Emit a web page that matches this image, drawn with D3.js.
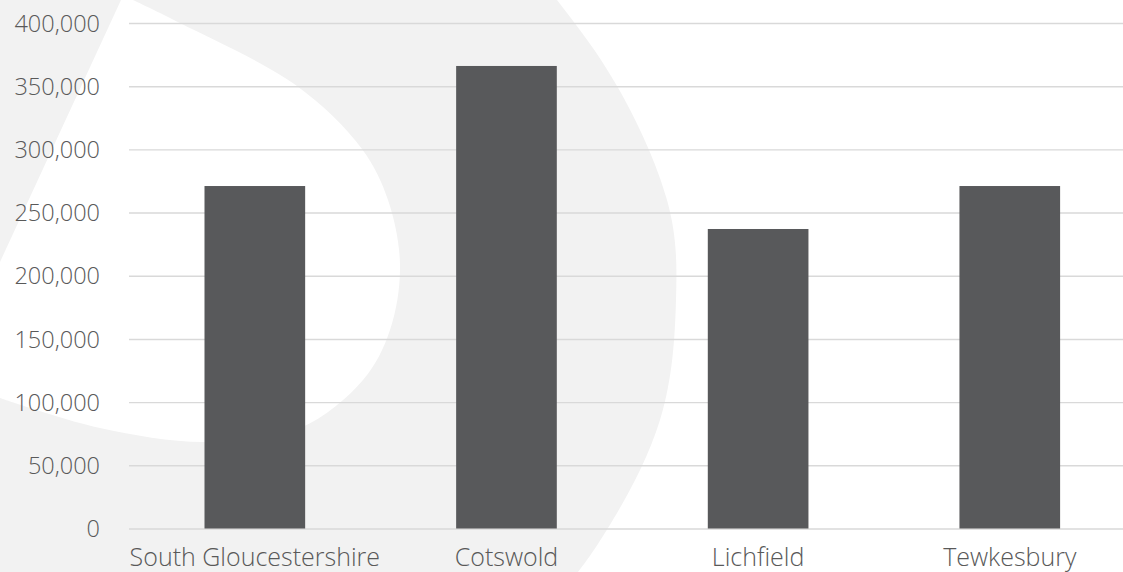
<!DOCTYPE html>
<html>
<head>
<meta charset="utf-8">
<script src="https://cdn.jsdelivr.net/npm/d3@7"></script>
<style>
  html, body { margin: 0; padding: 0; background: #ffffff; }
  svg { display: block; }
  .tick text { font-family: "Century Gothic", "Open Sans", sans-serif; font-weight: 300; fill: #595959; }
</style>
</head>
<body>
<svg id="chart" width="1123" height="572"></svg>
<script>
// Local authority values
const categories = ["South Gloucestershire", "Cotswold", "Lichfield", "Tewkesbury"];
const values = [271000, 366000, 237000, 271000];
const tickValues = [0, 50000, 100000, 150000, 200000, 250000, 300000, 350000, 400000];

const W = 1123, H = 572;
const svg = d3.select("#chart");

// Decorative background swoosh
const bg = svg.append("g");
const arcPts = [[557, 0], [617, 86], [667, 200], [676, 300], [660, 420], [608, 528], [578, 572]];
const line = d3.line().curve(d3.curveNatural);
bg.append("path")
  .attr("d", "M0,0 " + line(arcPts).replace(/^M/, "L") + " L0,572 Z")
  .attr("fill", "#f2f2f2");

const dropPts = [[133, 0], [180, 23], [297, 86], [362, 149], [388, 200], [400, 265],
                 [390, 330], [363, 380], [300, 428], [205, 442], [100, 428], [0, 398]];
const line2 = d3.line().curve(d3.curveCatmullRom.alpha(0.5));
bg.append("path")
  .attr("d", "M121,0 L0,262 " + line2(dropPts.slice().reverse()).replace(/^M/, "L") + " Z")
  .attr("fill", "#ffffff");

// Scales
const x = d3.scaleBand().domain(categories).range([129, 1135.6])
  .paddingInner(0.6).paddingOuter(0.3);
const y = d3.scaleLinear().domain([0, 400000]).range([528.5, 23]);

// Gridlines
const grid = svg.append("g").attr("transform", "translate(129,0)")
  .call(d3.axisLeft(y).tickValues(tickValues).tickSize(-(1135.6 - 129)).tickFormat(""));
grid.select(".domain").remove();
grid.selectAll(".tick line").attr("stroke", "#d9d9d9").attr("stroke-width", 1.4);

// Bars
svg.append("g").selectAll("rect")
  .data(values)
  .join("rect")
  .attr("x", (d, i) => x(categories[i]))
  .attr("width", x.bandwidth())
  .attr("y", d => y(d))
  .attr("height", d => y(0) - y(d))
  .attr("fill", "#58595b");

// Y axis labels
const yAxis = svg.append("g").attr("transform", "translate(100,0)")
  .call(d3.axisLeft(y).tickValues(tickValues).tickSize(0).tickPadding(0)
    .tickFormat(d3.format(",")));
yAxis.select(".domain").remove();
yAxis.selectAll(".tick text").attr("font-size", 23.5).attr("dy", "0.35em");

// X axis labels
const xAxis = svg.append("g").attr("transform", "translate(0,528.5)")
  .call(d3.axisBottom(x).tickSize(0).tickPadding(0));
xAxis.select(".domain").remove();
xAxis.selectAll(".tick text").attr("font-size", 25).attr("dy", null).attr("y", 37.5);
</script>
</body>
</html>
